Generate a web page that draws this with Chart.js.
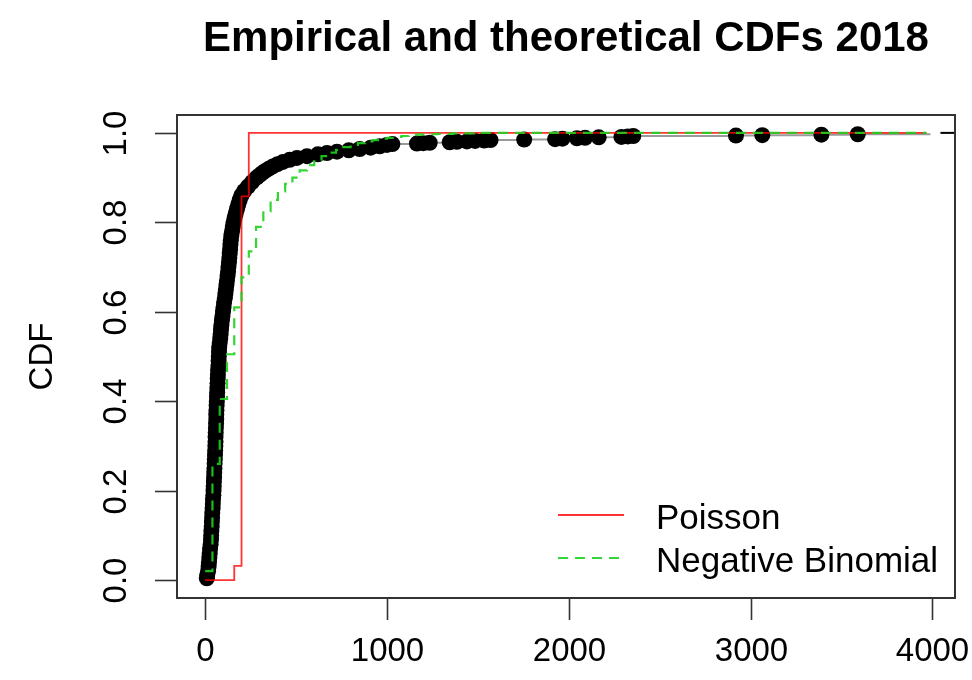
<!DOCTYPE html>
<html>
<head>
<meta charset="utf-8">
<title>Empirical and theoretical CDFs 2018</title>
<script src="https://cdn.jsdelivr.net/npm/chart.js@4/dist/chart.umd.min.js"></script>
<style>
  html, body { margin: 0; padding: 0; background: #fff; }
  #wrap { width: 972px; height: 680px; }
</style>
</head>
<body>
<div id="wrap"><canvas id="cdf" width="972" height="680"></canvas></div>
<script>
// ECDF vs Poisson / Negative Binomial fits

const chartTitle = 'Empirical and theoretical CDFs 2018';
const yTitle = 'CDF';
const xTicks = [0, 1000, 2000, 3000, 4000];
const yTicks = [0, 0.2, 0.4, 0.6, 0.8, 1.0];

// empirical CDF points (x = count, y = cumulative share)
const ecdfX = [9, 11, 16, 19, 21, 23, 25, 27, 30, 32,
  33, 34, 36, 37, 38, 39, 41, 42, 43, 45,
  46, 47, 48, 49, 50, 51, 52, 53, 54, 55,
  56, 57, 57, 58, 59, 60, 61, 61, 62, 63,
  64, 65, 66, 67, 68, 69, 70, 71, 73, 74,
  75, 76, 77, 80, 83, 85, 87, 89, 92, 95,
  98, 101, 104, 108, 111, 114, 117, 120, 123, 126,
  128, 131, 133, 135, 137, 139, 141, 144, 148, 152,
  156, 162, 168, 175, 182, 190, 199, 215, 235, 258,
  283, 298, 313, 330, 350, 372, 398, 428, 465, 505,
  560, 620, 670, 725, 790, 850, 910, 960, 1000, 1030,
  1165, 1200, 1235, 1345, 1385, 1440, 1485, 1535, 1570, 1755,
  1925, 1965, 2045, 2090, 2165, 2290, 2325, 2355, 2920, 3065,
  3390, 3590];
const ecdfY = [0.004, 0.01, 0.02, 0.03, 0.04, 0.05, 0.06, 0.07, 0.08, 0.09,
  0.10, 0.11, 0.12, 0.13, 0.14, 0.15, 0.16, 0.17, 0.18, 0.19,
  0.20, 0.21, 0.22, 0.23, 0.24, 0.25, 0.26, 0.27, 0.28, 0.29,
  0.30, 0.31, 0.32, 0.33, 0.34, 0.35, 0.36, 0.37, 0.38, 0.39,
  0.40, 0.41, 0.42, 0.43, 0.44, 0.45, 0.46, 0.47, 0.48, 0.49,
  0.50, 0.51, 0.52, 0.53, 0.54, 0.55, 0.56, 0.57, 0.58, 0.59,
  0.60, 0.61, 0.62, 0.63, 0.64, 0.65, 0.66, 0.67, 0.68, 0.69,
  0.70, 0.71, 0.72, 0.73, 0.74, 0.75, 0.76, 0.77, 0.78, 0.79,
  0.80, 0.81, 0.82, 0.83, 0.84, 0.85, 0.86, 0.87, 0.88, 0.89,
  0.90, 0.905, 0.91, 0.915, 0.92, 0.925, 0.93, 0.935, 0.94, 0.944,
  0.948, 0.952, 0.955, 0.958, 0.961, 0.964, 0.967, 0.970, 0.973, 0.975,
  0.976, 0.977, 0.978, 0.979, 0.980, 0.981, 0.982, 0.983, 0.984, 0.985,
  0.986, 0.987, 0.988, 0.989, 0.990, 0.991, 0.992, 0.993, 0.994, 0.995,
  0.996, 0.997];
// the grey ecdf step line runs on past the last dot, then a short black piece at 1
const ecdfLineEndX = [3990];
const ecdfLineEndY = [0.997];
const tailX = [4045, 4140];
const tailY = [1, 1];

// theoretical CDFs, evaluated on the plotting grid (drawn as steps)
const poissonX = [0, 160, 200, 240, 3968];
const poissonY = [0, 0.032, 0.858, 1, 1];
const negbinX = [0, 40, 80, 120, 160, 200, 240, 280, 320, 360,
  400, 440, 480, 520, 560, 600, 640, 680, 720, 760,
  800, 840, 880, 920, 960, 1000, 1040, 1080, 1120, 1160,
  1200, 1280, 1360, 1480, 3968];
const negbinY = [0.02, 0.26, 0.405, 0.505, 0.61, 0.677, 0.735, 0.79, 0.825, 0.85,
  0.869, 0.886, 0.90, 0.916, 0.928, 0.94, 0.948, 0.956, 0.962, 0.968,
  0.973, 0.977, 0.981, 0.984, 0.987, 0.989, 0.991, 0.993, 0.995, 0.996,
  0.997, 0.998, 0.999, 1.0, 1.0];

const legendLabels = ['Poisson', 'Negative Binomial'];
const FONT = '"Liberation Sans", Arial, Helvetica, sans-serif';

function toPoints(xs, ys) {
  return xs.map((x, i) => ({ x: x, y: ys[i] }));
}

// R-style box, ticks, rotated labels, title and legend
const rStylePlugin = {
  id: 'rStyle',
  afterDraw(chart) {
    const ctx = chart.ctx;
    const area = chart.chartArea;
    const xs = chart.scales.x;
    const ys = chart.scales.y;
    ctx.save();

    // box
    ctx.strokeStyle = '#333';
    ctx.lineWidth = 2;
    ctx.strokeRect(area.left, area.top, area.right - area.left, area.bottom - area.top);

    // x axis
    ctx.lineWidth = 1.6;
    ctx.fillStyle = '#000';
    ctx.font = '33px ' + FONT;
    ctx.textAlign = 'center';
    ctx.textBaseline = 'alphabetic';
    xTicks.forEach(v => {
      const px = Math.round(xs.getPixelForValue(v)) + 0.5;
      ctx.beginPath();
      ctx.moveTo(px, area.bottom);
      ctx.lineTo(px, area.bottom + 22);
      ctx.stroke();
      ctx.fillText(String(v), px, 661);
    });

    // y axis, labels parallel to the axis
    yTicks.forEach(v => {
      const py = Math.round(ys.getPixelForValue(v)) + 0.5;
      ctx.beginPath();
      ctx.moveTo(area.left, py);
      ctx.lineTo(area.left - 22, py);
      ctx.stroke();
      ctx.save();
      ctx.translate(126, py);
      ctx.rotate(-Math.PI / 2);
      ctx.fillText(v.toFixed(1), 0, 0);
      ctx.restore();
    });

    // y title
    ctx.save();
    ctx.translate(52, (area.top + area.bottom) / 2);
    ctx.rotate(-Math.PI / 2);
    ctx.fillText(yTitle, 0, 0);
    ctx.restore();

    // main title, centred on the plot region
    ctx.font = 'bold 42px ' + FONT;
    ctx.fillText(chartTitle, (area.left + area.right) / 2, 51);

    // legend (no box)
    const sets = [chart.data.datasets[3], chart.data.datasets[4]];
    const rows = [515, 558];
    ctx.font = '35px ' + FONT;
    ctx.textAlign = 'left';
    sets.forEach((ds, i) => {
      ctx.strokeStyle = ds.borderColor;
      ctx.lineWidth = ds.borderWidth;
      ctx.setLineDash(ds.borderDash || []);
      ctx.beginPath();
      ctx.moveTo(558, rows[i]);
      ctx.lineTo(624, rows[i]);
      ctx.stroke();
      ctx.setLineDash([]);
      ctx.fillStyle = '#000';
      ctx.fillText(legendLabels[i], 656, rows[i] + 14);
    });

    ctx.restore();
  }
};

const ctx = document.getElementById('cdf').getContext('2d');
new Chart(ctx, {
  type: 'scatter',
  data: {
    datasets: [
      {
        label: 'ecdf line',
        data: toPoints(ecdfX.concat(ecdfLineEndX), ecdfY.concat(ecdfLineEndY)),
        showLine: true,
        stepped: 'before',
        borderColor: '#9a9a9a',
        borderWidth: 2,
        pointRadius: 0,
        order: 6
      },
      {
        label: 'ecdf',
        data: toPoints(ecdfX, ecdfY),
        showLine: false,
        pointRadius: 8,
        pointBackgroundColor: '#000',
        pointBorderWidth: 0,
        order: 5
      },
      {
        label: 'ecdf tail',
        data: toPoints(tailX, tailY),
        showLine: true,
        borderColor: '#000',
        borderWidth: 2,
        pointRadius: 0,
        order: 4
      },
      {
        label: legendLabels[0],
        data: toPoints(poissonX, poissonY),
        showLine: true,
        stepped: 'before',
        borderColor: 'rgba(255, 0, 0, 0.8)',
        borderWidth: 1.8,
        pointRadius: 0,
        order: 2
      },
      {
        label: legendLabels[1],
        data: toPoints(negbinX, negbinY),
        showLine: true,
        stepped: 'before',
        borderColor: 'rgba(30, 210, 30, 0.9)',
        borderWidth: 2.2,
        borderDash: [10, 7],
        pointRadius: 0,
        order: 1
      }
    ]
  },
  options: {
    responsive: false,
    animation: false,
    events: [],
    layout: { padding: { left: 177, right: 17, top: 115, bottom: 82 } },
    plugins: {
      legend: { display: false },
      tooltip: { enabled: false },
      title: { display: false }
    },
    scales: {
      x: { type: 'linear', min: -155, max: 4125, display: false },
      y: { type: 'linear', min: -0.04, max: 1.04, display: false }
    }
  },
  plugins: [rStylePlugin]
});
</script>
</body>
</html>
